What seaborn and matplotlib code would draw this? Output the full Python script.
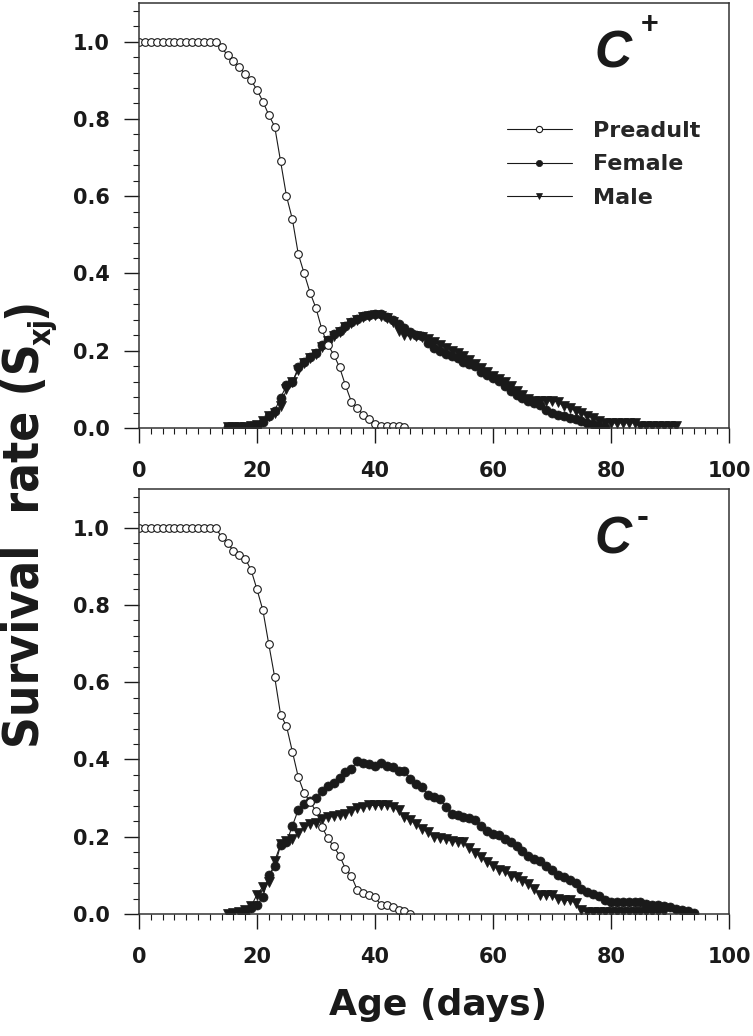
import numpy as np
import pandas as pd
import matplotlib
matplotlib.use("Agg")
import matplotlib.pyplot as plt
from matplotlib import font_manager
from matplotlib.lines import Line2D
from matplotlib.ticker import MultipleLocator
import seaborn as sns

# ---------------------------------------------------------------------------
# Data: age-stage survival rate (S_xj), one value per day
# ---------------------------------------------------------------------------
# C+ panel
preadult_plus_start = 0
preadult_plus = [1.0] * 14 + [
    0.985, 0.965, 0.95, 0.935, 0.915, 0.90, 0.875, 0.845, 0.81, 0.78,
    0.69, 0.60, 0.54, 0.45, 0.40, 0.35, 0.31, 0.255, 0.215, 0.19,
    0.157, 0.11, 0.068, 0.052, 0.034, 0.022, 0.009, 0.006, 0.005, 0.005,
    0.005, 0.002]
female_plus_start = 15
female_plus = [
    0.003, 0.003, 0.003, 0.003, 0.005, 0.005, 0.015, 0.03, 0.045, 0.078,
    0.11, 0.118, 0.157, 0.17, 0.183, 0.194, 0.215, 0.228, 0.242, 0.25,
    0.265, 0.275, 0.282, 0.29, 0.293, 0.295, 0.295, 0.288, 0.28, 0.27,
    0.258, 0.248, 0.24, 0.238, 0.22, 0.208, 0.2, 0.192, 0.187, 0.18,
    0.172, 0.166, 0.16, 0.146, 0.138, 0.129, 0.121, 0.108, 0.095, 0.086,
    0.078, 0.07, 0.065, 0.06, 0.047, 0.039, 0.034, 0.03, 0.026, 0.022,
    0.017, 0.013, 0.009, 0.006, 0.002]
male_plus_start = 15
male_plus = [
    0.003, 0.003, 0.003, 0.003, 0.005, 0.008, 0.018, 0.03, 0.04, 0.058,
    0.1, 0.12, 0.15, 0.168, 0.18, 0.192, 0.21, 0.225, 0.238, 0.248,
    0.262, 0.272, 0.28, 0.287, 0.29, 0.292, 0.29, 0.285, 0.275, 0.252,
    0.24, 0.24, 0.238, 0.235, 0.23, 0.222, 0.215, 0.208, 0.2, 0.195,
    0.185, 0.175, 0.165, 0.155, 0.145, 0.135, 0.128, 0.118, 0.108, 0.095,
    0.085, 0.075, 0.07, 0.07, 0.07, 0.07, 0.068, 0.056, 0.052, 0.045,
    0.04, 0.032, 0.026, 0.018, 0.013, 0.013, 0.013, 0.013, 0.013, 0.013,
    0.004, 0.004, 0.004, 0.004, 0.004, 0.004, 0.004]

# C- panel
preadult_minus_start = 0
preadult_minus = [1.0] * 14 + [
    0.975, 0.96, 0.94, 0.93, 0.92, 0.89, 0.84, 0.786, 0.698, 0.613,
    0.516, 0.486, 0.42, 0.354, 0.313, 0.29, 0.266, 0.226, 0.196, 0.175,
    0.151, 0.117, 0.098, 0.062, 0.054, 0.05, 0.043, 0.024, 0.022, 0.017,
    0.009, 0.007, 0.0]
female_minus_start = 18
female_minus = [
    0.0, 0.015, 0.023, 0.043, 0.102, 0.123, 0.178, 0.186, 0.228, 0.27,
    0.285, 0.292, 0.30, 0.317, 0.33, 0.34, 0.352, 0.367, 0.375, 0.395,
    0.39, 0.389, 0.384, 0.39, 0.384, 0.38, 0.371, 0.369, 0.35, 0.337,
    0.328, 0.307, 0.302, 0.298, 0.278, 0.26, 0.256, 0.252, 0.248, 0.244,
    0.227, 0.215, 0.206, 0.205, 0.194, 0.186, 0.177, 0.164, 0.151, 0.142,
    0.138, 0.125, 0.115, 0.101, 0.095, 0.089, 0.08, 0.065, 0.056, 0.052,
    0.047, 0.035, 0.03, 0.03, 0.03, 0.03, 0.03, 0.03, 0.026, 0.024,
    0.022, 0.02, 0.017, 0.013, 0.009, 0.007, 0.002]
male_minus_start = 15
male_minus = [
    0.0, 0.003, 0.005, 0.01, 0.02, 0.05, 0.07, 0.082, 0.137, 0.18,
    0.188, 0.193, 0.21, 0.226, 0.232, 0.236, 0.247, 0.25, 0.253, 0.257,
    0.26, 0.267, 0.273, 0.276, 0.281, 0.281, 0.281, 0.281, 0.278, 0.268,
    0.25, 0.242, 0.233, 0.22, 0.212, 0.199, 0.197, 0.193, 0.189, 0.187,
    0.185, 0.172, 0.158, 0.147, 0.134, 0.124, 0.115, 0.11, 0.099, 0.095,
    0.086, 0.078, 0.065, 0.05, 0.048, 0.048, 0.039, 0.035, 0.035, 0.029,
    0.01] + [0.004] * 14

stages = ['Preadult', 'Female', 'Male']
x_ticks = [0, 20, 40, 60, 80, 100]
y_ticks = [0.0, 0.2, 0.4, 0.6, 0.8, 1.0]


def serie(start, values):
    return pd.DataFrame({'Age': np.arange(start, start + len(values)),
                         'S': values})


panels = [
    ('C', '+', [serie(preadult_plus_start, preadult_plus),
                serie(female_plus_start, female_plus),
                serie(male_plus_start, male_plus)]),
    ('C', '-', [serie(preadult_minus_start, preadult_minus),
                serie(female_minus_start, female_minus),
                serie(male_minus_start, male_minus)]),
]

# ---------------------------------------------------------------------------
# Style
# ---------------------------------------------------------------------------
sns.set_style("ticks")
plt.rcParams['font.family'] = ['DejaVu Sans']
plt.rcParams['font.weight'] = 'bold'


# the y label of the original is a narrow bold sans face: look for one
def buscar_estrecha():
    archivos = {f.fname.split('/')[-1].lower(): f.fname
                for f in font_manager.fontManager.ttflist}
    preferidas = ['liberationsansnarrow-bold.ttf', 'arialnarrowbold.ttf',
                  'notosans-condensedbold.ttf', 'notosans-semicondensedbold.ttf',
                  'dejavusanscondensed-bold.ttf']
    for p in preferidas:
        if p in archivos:
            return font_manager.FontProperties(fname=archivos[p])
    return font_manager.FontProperties(family='Liberation Sans', weight='bold')


fp_estrecha = buscar_estrecha()

INK = '#1a1a1a'
styles = {
    'Preadult': dict(marker='o', markersize=5.5, markerfacecolor='white',
                     markeredgecolor=INK, markeredgewidth=0.8),
    'Female': dict(marker='o', markersize=6.5, markerfacecolor=INK,
                   markeredgecolor=INK, markeredgewidth=0.5),
    'Male': dict(marker='v', markersize=6.5, markerfacecolor=INK,
                 markeredgecolor=INK, markeredgewidth=0.5),
}
order = ['Female', 'Male', 'Preadult']  # preadult circles drawn on top

fig = plt.figure(figsize=(7.53, 10.36), dpi=100)
ax_top = fig.add_axes([0.1846, 0.5869, 0.7835, 0.4102])
ax_bot = fig.add_axes([0.1846, 0.1178, 0.7835, 0.4102])

for ax, (letra, signo, datos) in zip([ax_top, ax_bot], panels):
    por_etapa = dict(zip(stages, datos))
    for etapa in order:
        sns.lineplot(data=por_etapa[etapa], x='Age', y='S', ax=ax,
                     color=INK, lw=0.8, estimator=None, sort=False,
                     **styles[etapa])
    ax.set_xlim(0, 100)
    ax.set_ylim(0, 1.1)
    ax.set_xticks(x_ticks)
    ax.set_yticks(y_ticks)
    ax.set_yticklabels([f'{v:.1f}' for v in y_ticks])
    ax.xaxis.set_minor_locator(MultipleLocator(2))
    ax.yaxis.set_minor_locator(MultipleLocator(0.04))
    ax.tick_params(which='major', direction='out', length=11, width=1.0,
                   color=INK, labelsize=15, labelcolor=INK)
    ax.tick_params(which='minor', direction='out', length=4.5, width=0.8,
                   color=INK)
    ax.tick_params(axis='x', which='major', pad=13)
    ax.tick_params(axis='y', which='major', pad=10)
    for lab in ax.get_xticklabels() + ax.get_yticklabels():
        lab.set_fontweight('bold')
    for sp in ax.spines.values():
        sp.set_visible(True)
        sp.set_linewidth(1.1)
        sp.set_color('#333333')
    ax.set_xlabel('')
    ax.set_ylabel('')

    # panel tag C+ / C-
    ax.text(0.803, 0.849, letra, transform=ax.transAxes, ha='center',
            va='baseline', fontsize=37, fontweight='bold', style='italic',
            family='Liberation Sans', color=INK)
    if signo == '+':
        ax.text(0.866, 0.929, '+', transform=ax.transAxes, ha='center',
                va='baseline', fontsize=22, fontweight='bold',
                family='Liberation Sans', color=INK)
    else:
        ax.text(0.853, 0.911, '-', transform=ax.transAxes, ha='center',
                va='baseline', fontsize=26, fontweight='bold',
                family='Liberation Sans', color=INK)

# legend only in the upper panel
handles = [Line2D([], [], color=INK, lw=0.8,
                  **{**styles[e], 'markersize': 4.5}) for e in stages]
ax_top.legend(handles, stages, loc='upper left', bbox_to_anchor=(0.624, 0.722),
              frameon=False, borderpad=0, borderaxespad=0, handlelength=2.9,
              handletextpad=0.95, labelspacing=0.6,
              prop={'family': 'DejaVu Sans', 'weight': 'bold', 'size': 16})

fig.text(0.582, 0.030, 'Age (days)', ha='center', va='center', fontsize=26,
         fontweight='bold', color=INK)

# y label: "Survival  rate (S" + italic subscript "xj" + ")", written upwards
W, H = fig.get_size_inches() * fig.dpi
renderer = fig.canvas.get_renderer()
y_ini_px, largo_px, x_cen_px = 1036 - 748, 450, 25


def poner_ylabel(size):
    fp = fp_estrecha.copy()
    fp.set_size(size)
    fp_sub = fp.copy()
    fp_sub.set_size(size * 0.62)
    fp_sub.set_style('italic')
    em = size * fig.dpi / 72
    partes = []
    t1 = fig.text(x_cen_px / W, y_ini_px / H, 'Survival  rate (S',
                  rotation=90, ha='center', va='bottom', fontproperties=fp,
                  color=INK)
    partes.append(t1)
    y1 = t1.get_window_extent(renderer).y1
    x_sub = x_cen_px + 0.33 * em + 0.22 * em - 0.33 * em * 0.62
    t2 = fig.text(x_sub / W, (y1 - 0.04 * em) / H, 'xj', rotation=90,
                  ha='center', va='bottom', fontproperties=fp_sub, color=INK)
    partes.append(t2)
    y2 = t2.get_window_extent(renderer).y1
    t3 = fig.text(x_cen_px / W, y2 / H, ')', rotation=90, ha='center',
                  va='bottom', fontproperties=fp, color=INK)
    partes.append(t3)
    y3 = t3.get_window_extent(renderer).y1
    return partes, y3 - y_ini_px


partes, largo = poner_ylabel(36)
for t in partes:
    t.remove()
tam = min(36, 36 * largo_px / largo)
poner_ylabel(tam)

fig.savefig('out.png', dpi=100)
